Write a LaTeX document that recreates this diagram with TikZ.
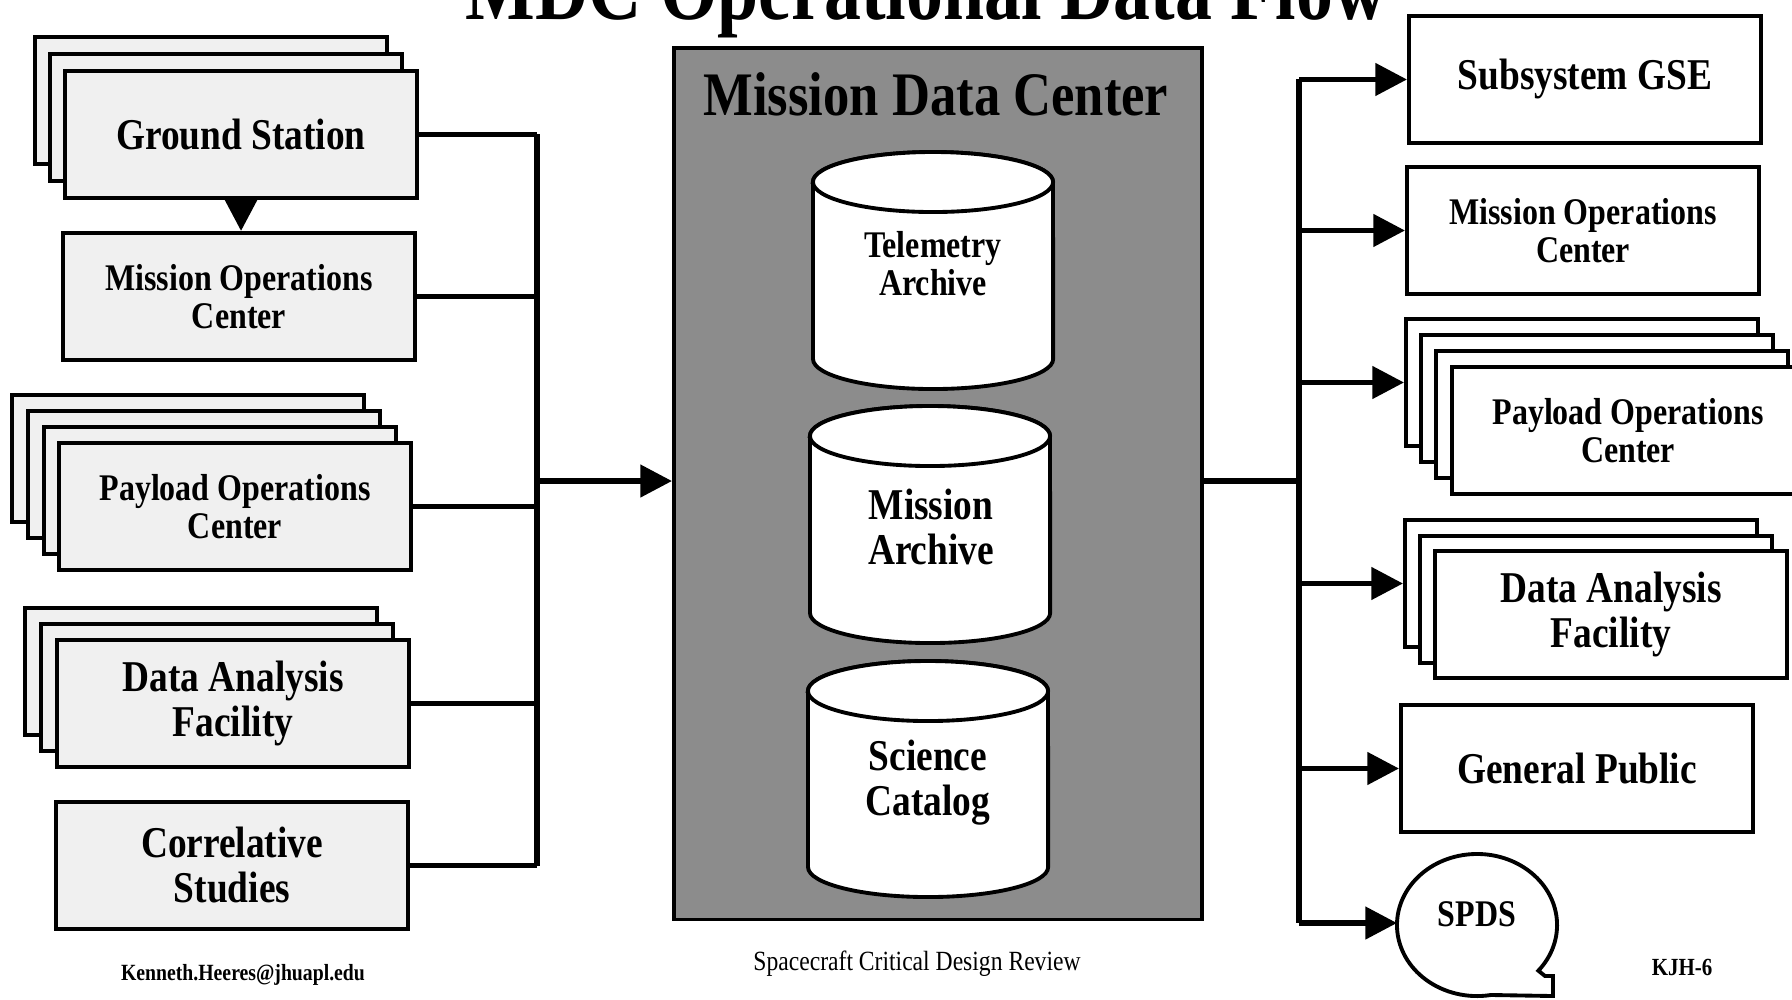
\documentclass[tikz,border=0pt]{standalone}
\usepackage{fontspec}
\setmainfont{Liberation Serif}[FakeStretch=0.85]
\usetikzlibrary{arrows.meta}

\tikzset{
  box/.style={draw, line width=1.1pt, fill=white, minimum width=3.52cm, minimum height=1.27cm, align=center, inner sep=0pt},
  speckle/.style={fill=black!6},
  bigtxt/.style={font=\bfseries\fontsize{12.5}{12.8}\selectfont},
  smalltxt/.style={font=\bfseries\fontsize{10.7}{10.8}\selectfont},
  flow/.style={line width=1.6pt},
  flowarrow/.style={flow, -{Triangle[length=9pt,width=9pt]}},
  cyl/.style={line width=1.1pt, fill=white},
}

\begin{document}
\begin{tikzpicture}[x=0.01cm, y=0.01cm]
  \path[use as bounding box, fill=white] (0,0) rectangle (1792,-999);

  \node[font=\bfseries\fontsize{24.7}{26}\selectfont, anchor=base] (title) at (926,-19) {MDC Operational Data Flow};

  % left side: sources
  \foreach \i in {0,1} \node[box, speckle, anchor=north west] (gs-\i) at ({33+15*\i},{-35-17*\i}) {};
  \node[box, speckle, bigtxt, anchor=north west] (gs) at (63,-69) {Ground Station};
  \node[box, speckle, smalltxt, anchor=north west] (moc1) at (61,-231) {Mission Operations\\Center};
  \foreach \i in {0,1,2} \node[box, speckle, anchor=north west] (poc1-\i) at ({10+16*\i},{-393-16*\i}) {};
  \node[box, speckle, smalltxt, anchor=north west] (poc1) at (57,-441) {Payload Operations\\Center};
  \foreach \i in {0,1} \node[box, speckle, anchor=north west] (daf1-\i) at ({23+16*\i},{-606-16*\i}) {};
  \node[box, speckle, bigtxt, anchor=north west] (daf1) at (55,-638) {Data Analysis\\Facility};
  \node[box, speckle, bigtxt, anchor=north west] (cs) at (54,-800) {Correlative\\Studies};

  \draw[flowarrow] (gs.south) -- (gs.south |- moc1.north);

  % center: the archive
  \node[draw, line width=1.1pt, fill=black!45, anchor=north west, minimum width=5.28cm, minimum height=8.71cm] (mdc) at (672,-46) {};
  \node[font=\bfseries\fontsize{17.6}{18}\selectfont, anchor=base] (mdctitle) at (936,-115) {Mission Data Center};

  \foreach \cx/\ty/\by in {933/152/389, 930/406/643, 928/661/897} {
    \filldraw[cyl] ({\cx-120},{-\ty-30}) -- ({\cx-120},{-\by+30}) arc (180:360:1.2cm and 0.3cm) -- ({\cx+120},{-\ty-30}) arc (0:180:1.2cm and 0.3cm) -- cycle;
    \draw[cyl] (\cx,{-\ty-30}) ellipse (1.2cm and 0.3cm);
  }
  \node[smalltxt, align=center] (tel) at (933,-264) {Telemetry\\Archive};
  \node[bigtxt, align=center] (mis) at (931,-527) {Mission\\Archive};
  \node[bigtxt, align=center] (sci) at (928,-783) {Science\\Catalog};

  % right side: users
  \node[box, bigtxt, anchor=north west] (gse) at (1407,-14) {Subsystem GSE};
  \node[box, smalltxt, anchor=north west] (moc2) at (1405,-165) {Mission Operations\\Center};
  \foreach \i in {0,1,2} \node[box, anchor=north west] (poc2-\i) at ({1404+15*\i},{-317-16*\i}) {};
  \node[box, smalltxt, anchor=north west] (poc2) at (1450,-365) {Payload Operations\\Center};
  \foreach \i in {0,1} \node[box, anchor=north west] (daf2-\i) at ({1403+15*\i},{-518-16*\i}) {};
  \node[box, bigtxt, anchor=north west] (daf2) at (1433,-549) {Data Analysis\\Facility};
  \node[box, bigtxt, anchor=north west] (gp) at (1399,-703) {General Public};

  \draw[line width=1.1pt] (1477,-925) ++(-40:0.8cm and 0.71cm) arc (-40:280:0.8cm and 0.71cm) -- (1553,-996) -- (1553,-976) -- (1545,-976) -- cycle;
  \node[smalltxt] (spds) at (1477,-914) {SPDS};
  \coordinate (spdsw) at (1397,-923);

  % connectors
  \coordinate (lbus) at (537,-481);
  \coordinate (rbus) at (1299,-481);
  \foreach \n in {gs, moc1, poc1, daf1, cs} \draw[flow] (\n.east) -- (\n.east -| lbus);
  \draw[flow] (gs.east -| lbus) -- (cs.east -| lbus);
  \draw[flowarrow] (lbus) -- (mdc.west |- lbus);

  \draw[flow] (mdc.east |- rbus) -- (rbus);
  \draw[flow] (gse.west -| rbus) -- (spdsw -| rbus);
  \foreach \n in {gse, moc2, poc2-0, daf2-0, gp} \draw[flowarrow] (\n.west -| rbus) -- (\n.west);
  \draw[flowarrow] (spdsw -| rbus) -- (spdsw);

  \node[font=\bfseries\fontsize{6.6}{7}\selectfont, anchor=base] (email) at (243,-980) {Kenneth.Heeres@jhuapl.edu};
  \node[font=\fontsize{7.9}{8}\selectfont, anchor=base] (review) at (917,-970) {Spacecraft Critical Design Review};
  \node[font=\bfseries\fontsize{7}{8}\selectfont, anchor=base] (pageid) at (1682,-975) {KJH-6};
\end{tikzpicture}
\end{document}
